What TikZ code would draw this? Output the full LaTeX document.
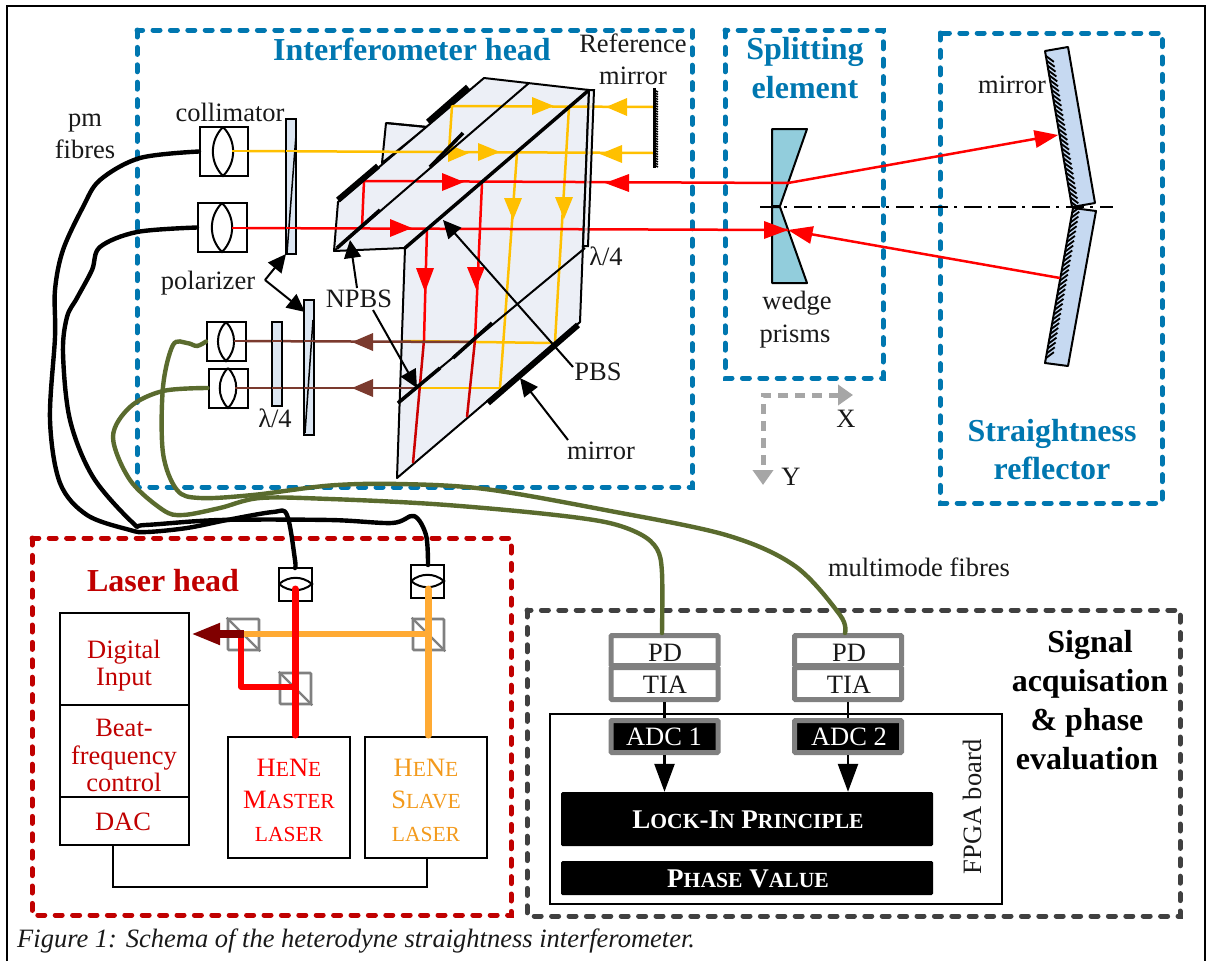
\documentclass[tikz,border=0pt]{standalone}
\usepackage{fontspec}
\setmainfont{Liberation Serif}
\usetikzlibrary{arrows.meta,calc}
\definecolor{cblue}{HTML}{0077B0}
\definecolor{cred}{HTML}{C00000}
\definecolor{cgray}{HTML}{404040}
\definecolor{corange}{HTML}{FFC000}
\definecolor{claser}{HTML}{FFAA33}
\definecolor{cslave}{HTML}{F39A1C}
\definecolor{cbrown}{HTML}{7B3A2E}
\definecolor{cgreen}{HTML}{5A6B2E}
\definecolor{cprism}{HTML}{ECEFF6}
\definecolor{cplate}{HTML}{DCE6F2}
\definecolor{cwedge}{HTML}{92CDDC}
\definecolor{cmirror}{HTML}{C6D9F1}
\newcommand{\fs}[1]{\fontsize{#1}{#1}\selectfont}
\newcommand{\smc}[1]{{\fs{21.5}#1}}
\newcommand{\smb}[1]{{\fs{21.6}#1}}
\tikzset{
  x=1pt,y=-1pt,
  zone/.style={line width=5pt,line cap=round,dash pattern=on 7pt off 10.4pt},
  txt/.style={anchor=base,inner sep=0pt,font=\fs{26.5},text=black!90},
  ttl/.style={anchor=base,inner sep=0pt,font=\fs{32}\bfseries,text=cblue},
  colbox/.style={draw=black,line width=2pt,inner sep=0pt,fill=white},
  labbox/.style={draw=black,line width=1.8pt,inner sep=0pt,fill=white},
  graybox/.style={draw=black!50,line width=5pt,rounded corners=1pt,inner sep=0pt,fill=white},
  cube/.style={draw=black!50,line width=2.6pt,rounded corners=1pt,inner sep=0pt,minimum width=31pt,minimum height=31pt},
  blk/.style={fill=black,rounded corners=1.5pt,inner sep=0pt,text=white,font=\fs{27}\bfseries},
  beam/.style={line width=2.5pt},
  fat/.style={line width=7pt,line cap=round},
  pmf/.style={line width=4.4pt,line cap=round,line join=round},
  mmf/.style={line width=4.4pt,line cap=round,color=cgreen},
  ann/.style={line width=2pt,-{Triangle[length=18pt,width=17pt]}},
  plate/.style={draw=black,line width=2pt,fill=cplate},
  edgeline/.style={line width=2pt,line join=round},
  thick part/.style={line width=3.6pt}
}
% triangle arrowhead on a beam: colour, from, to
\newcommand{\tri}[3]{\fill[#1] (#3) -- ($(#2)!9pt!90:(#3)$) -- ($(#2)!9pt!-90:(#3)$) -- cycle;}
\newcommand{\lens}[4]{\draw[line width=2pt] (#1,#2) to[bend left=#4] (#1,#3) to[bend left=#4] (#1,#2);}
\newcommand{\hlens}[4]{\draw[line width=2pt] (#1,#3) to[bend left=#4] (#2,#3) to[bend left=#4] (#1,#3);}
\begin{document}
\begin{tikzpicture}
\useasboundingbox (0,0) rectangle (1212,961);
\fill[white] (0,0) rectangle (1212,961);
% outer frame
\draw[line width=2pt] (7,961) -- (7,6) -- (1205,6) -- (1205,961);
% zones
\draw[zone,cblue] (137,30) rectangle (692,487);
\draw[zone,cblue] (725,30) rectangle (883,378);
\draw[zone,cblue] (940,33) rectangle (1162,503);
\draw[zone,cred] (32,538) rectangle (511,915);
\draw[zone,cgray] (527,610) rectangle (1180,916);
% titles
\node[ttl] (t1) at (412,60) {Interferometer head};
\node[ttl] (t2) at (805,59) {Splitting};
\node[ttl] (t3) at (805,98) {element};
\node[ttl] (t4) at (1052,441) {Straightness};
\node[ttl] (t5) at (1052,479) {reflector};
\node[ttl,text=cred] (t6) at (163,591) {Laser head};
\node[ttl,text=black] (t7) at (1090,652) {Signal};
\node[ttl,text=black] (t8) at (1090,691) {acquisation};
\node[ttl,text=black] (t9) at (1087,730) {\& phase};
\node[ttl,text=black] (t10) at (1087,769) {evaluation};
% labels
\node[txt] (l1) at (633,52) {Reference};
\node[txt] (l2) at (633,84) {mirror};
\node[txt] (l3) at (1012,93) {mirror};
\node[txt] (l4) at (85,126) {pm};
\node[txt] (l5) at (85,158) {fibres};
\node[txt] (l6) at (230,121) {collimator};
\node[txt] (l7) at (208,289) {polarizer};
\node[txt] (l8) at (359,307) {NPBS};
\node[txt] (l9) at (606,265) {λ/4};
\node[txt] (l10) at (598,380) {PBS};
\node[txt] (l11) at (601,459) {mirror};
\node[txt] (l12) at (797,309) {wedge};
\node[txt] (l13) at (795,342) {prisms};
\node[txt] (l14) at (275,427) {λ/4};
\node[txt] (l15) at (846,427) {X};
\node[txt] (l16) at (791,485) {Y};
\node[txt] (l17) at (919,576) {multimode fibres};
\node[txt,anchor=base west,font=\fs{26.5}\itshape] (cap) at (17,947) {Figure 1: Schema of the heterodyne straightness interferometer.};
% axis arrows
\draw[line width=5pt,color=black!35,dash pattern=on 10pt off 7pt,{Triangle[length=15pt,width=20pt]}-{Triangle[length=15pt,width=20pt]}] (853,395) -- (763,395) -- (763,485);
% wedge prisms
\filldraw[fill=cwedge,edgeline] (772,129) -- (807,129) -- (780,206) -- (772,206) -- cycle;
\filldraw[fill=cwedge,edgeline] (772,207) -- (780,207) -- (807,283) -- (772,283) -- cycle;
% prism block
\filldraw[fill=cprism,edgeline] (386,123) -- (427,127) -- (382,163) -- cycle;
\draw[edgeline] (386,123) -- (427,127);
\filldraw[fill=cprism,edgeline] (484,78) -- (589,90) -- (580,322) -- (397,478) -- (405,248) -- (334,251) -- (338,202) -- cycle;
% beams in the block
\draw[beam,corange] (232,151) -- (653,153);
\draw[beam,corange] (653,107) -- (452,106) -- (449,151);
\draw[beam,corange] (569,107) -- (558,290) -- (555,342);
\draw[beam,corange] (517,153) -- (500,388);
\draw[beam,corange] (403,341) -- (553,343);
\draw[beam,corange] (418,388) -- (500,388);
\draw[beam,red] (788,183) -- (364,181) -- (362,227);
\draw[beam,red] (232,228) -- (788,230);
\draw[beam,red] (427,228) -- (424,340);
\draw[beam,red] (482,183) -- (475,340);
\draw[beam,red!80!black] (424,340) -- (413,463);
\draw[beam,red!80!black] (475,340) -- (467,417);
\draw[beam,cbrown] (232,341) -- (472,342);
\draw[beam,cbrown] (232,388) -- (418,388);
\tri{corange}{532,106}{554,106}
\tri{corange}{627,107}{606,107}
\tri{corange}{448,153}{469,153}
\tri{corange}{478,152}{500,152}
\tri{corange}{622,154}{600,154}
\tri{corange}{564,197}{564,219}
\tri{corange}{513,198}{513,220}
\tri{red}{442,182}{464,182}
\tri{red}{629,183}{605,183}
\tri{red}{390,228}{412,228}
\tri{red}{425,268}{425,292}
\tri{red}{476,267}{476,289}
\tri{cbrown}{373,342}{352,342}
\tri{cbrown}{373,388}{352,388}
% internal surfaces
\draw[edgeline] (529,83) -- (334,251);
\draw[thick part] (463,133) -- (430,167);
\draw[thick part] (380,210) -- (337,248);
\draw[line width=3.5pt] (589,90) -- (405,248);
\draw[edgeline] (585,248) -- (398,403);
\draw[thick part] (492,323) -- (453,358);
\draw[thick part] (440,368) -- (398,403);
\draw[line width=6pt] (468,87) -- (428,122);
\draw[line width=6pt] (378,166) -- (338,200);
\draw[line width=6pt] (578,325) -- (488,403);
\filldraw[fill=cprism,fill opacity=.7,draw=black,line width=2pt] (589,90) -- (594,90) -- (588,246) -- (583,246) -- cycle;
% reference mirror
\draw[line width=3pt] (654,88) -- (654,168);
\foreach \i in {90,92.5,...,166}{\draw[line width=1.4pt] (654,\i) -- (658,\i+2);}
% collimators
\node[colbox,minimum width=48pt,minimum height=49pt] (c1) at (224,151.5) {};
\node[colbox,minimum width=49pt,minimum height=49pt] (c2) at (222.5,227.5) {};
\node[colbox,minimum width=39pt,minimum height=39pt] (c3) at (226.5,341.5) {};
\node[colbox,minimum width=39pt,minimum height=39pt] (c4) at (228,388) {};
\lens{223}{127}{176}{45}
\lens{222}{203}{252}{45}
\lens{226}{322}{361}{45}
\lens{228}{368}{408}{45}
\draw[beam,corange] (232,151) -- (286,151);
\draw[beam,red] (232,228) -- (286,228);
\draw[beam,cbrown] (234,341) -- (272,341);
\draw[beam,cbrown] (235,388) -- (272,388);
% plates
\filldraw[plate] (286,119) rectangle (296,254);
\draw[line width=1.5pt] (296,135) -- (287,253);
\draw[beam,corange] (286,151) -- (300,151);
\draw[beam,red] (286,228) -- (300,228);
\filldraw[plate] (304,300) rectangle (314,435);
\draw[line width=1.5pt] (313,320) -- (305,433);
\draw[beam,cbrown] (304,341) -- (320,341);
\draw[beam,cbrown] (304,388) -- (320,388);
\filldraw[plate] (272,322) rectangle (282,406);
\draw[beam,cbrown] (272,341) -- (282,341);
\draw[beam,cbrown] (272,388) -- (282,388);
% annotation arrows
\coordinate (pz) at (265,280);
\coordinate (pa) at (286,254);
\coordinate (pb) at (305,312);
\draw[ann] (pz) -- (pa);
\draw[ann] (pz) -- (pb);
\coordinate (n0) at (357,288);
\coordinate (n1) at (350,240);
\coordinate (n3) at (373,310);
\coordinate (n2) at (417,388);
\draw[ann] (n0) -- (n1);
\draw[ann] (n3) -- (n2);
\coordinate (pbsend) at (443,220);
\coordinate (pbsstart) at (573,367);
\draw[ann] (pbsstart) -- (pbsend);
\coordinate (mend) at (520,378);
\coordinate (mstart) at (568,440);
\draw[ann] (mstart) -- (mend);
% reflector
\filldraw[fill=cmirror,edgeline] (1045,51) -- (1068,47) -- (1095,203) -- (1072,207) -- cycle;
\filldraw[fill=cmirror,edgeline] (1073,208) -- (1096,211) -- (1068,366) -- (1045,363) -- cycle;
\foreach \i in {1,...,31}{
  \draw[line width=1.8pt] ($(1045,51)!\i/32!(1072,207)$) -- ++(8,6);
  \draw[line width=1.8pt] ($(1073,208)!\i/32!(1045,363)$) -- ++(8,-6);
}
% centre line and outer beams
\draw[line width=1.6pt,dash pattern=on 18pt off 6pt on 3pt off 7pt] (760,207) -- (1113,207);
\draw[beam,red] (788,183) -- (1040,138);
\draw[beam,red] (1060,278) -- (810,234);
\tri{red}{1035,139}{1058,135}
\tri{red}{812,235}{788,230}
\tri{red}{764,230}{788,230}
% laser head
\node[labbox,minimum width=129pt,minimum height=92pt] (di) at (124.5,659) {};
\node[labbox,minimum width=129pt,minimum height=92pt] (bf) at (124.5,751) {};
\node[labbox,minimum width=129pt,minimum height=48pt] (dac) at (124.5,821) {};
\node[labbox,minimum width=122pt,minimum height=121pt] (ms) at (289,797.5) {};
\node[labbox,minimum width=122pt,minimum height=121pt] (sl) at (426,797.5) {};
\coordinate (wa) at (113,887);
\coordinate (wb) at (427,887);
\draw[line width=1.8pt] (dac.south -| wa) -- (wa) -- (wb) -- (wb |- sl.south);
\node[txt,text=cred] at (124,658) {Digital};
\node[txt,text=cred] at (124,685) {Input};
\node[txt,text=cred] at (124,736) {Beat-};
\node[txt,text=cred] at (124,764) {frequency};
\node[txt,text=cred] at (124,791) {control};
\node[txt,text=cred] at (123,830) {DAC};
\node[txt,text=red] at (289,776) {H\smc{E}N\smc{E}};
\node[txt,text=red] at (289,808) {M\smc{ASTER}};
\node[txt,text=red] at (289,841) {\smc{LASER}};
\node[txt,text=cslave] at (426,776) {H\smc{E}N\smc{E}};
\node[txt,text=cslave] at (426,808) {S\smc{LAVE}};
\node[txt,text=cslave] at (426,841) {\smc{LASER}};
\node[colbox,minimum width=33pt,minimum height=33pt] (cm) at (295.5,584.5) {};
\node[colbox,minimum width=33pt,minimum height=33pt] (cs) at (427.5,581.5) {};
\hlens{279}{312}{584}{40}
\hlens{411}{444}{581}{40}
\node[cube] (bs1) at (243.5,634.5) {};
\node[cube] (bs2) at (428.5,634.5) {};
\node[cube] (bs3) at (295.5,688.5) {};
\draw[line width=2.2pt,black!50] (bs1.north west) -- (bs1.south east);
\draw[line width=2.2pt,black!50] (bs2.north west) -- (bs2.south east);
\draw[line width=2.2pt,black!50] (bs3.north west) -- (bs3.south east);
\draw[line width=6pt,claser] (243,634) -- (428,634);
\draw[fat,claser] (428,589) -- (428,735);
\draw[fat,red] (295,589) -- (295,735);
\draw[line width=5.5pt,red,line join=round] (295,687) -- (241,687) -- (241,634);
\draw[line width=7.5pt,color=black!50!red,-{Triangle[length=29pt,width=20pt]}] (244,634) -- (191,634);
% signal acquisition
\node[labbox,minimum width=452pt,minimum height=190pt] (fpga) at (776,809) {};
\node[txt,rotate=90] at (981,807) {FPGA board};
\node[graybox,minimum width=107pt,minimum height=30pt] (pd1) at (664.5,650.5) {};
\node[graybox,minimum width=107pt,minimum height=32pt] (tia1) at (664.5,683.5) {};
\node[graybox,minimum width=107pt,minimum height=30pt] (pd2) at (848,650.5) {};
\node[graybox,minimum width=107pt,minimum height=32pt] (tia2) at (848,683.5) {};
\node[txt] at (665,661) {PD};
\node[txt] at (665,693) {TIA};
\node[txt] at (849,661) {PD};
\node[txt] at (849,693) {TIA};
\node[graybox,fill=black,minimum width=107pt,minimum height=32pt] (adc1) at (664.5,736.5) {};
\node[graybox,fill=black,minimum width=107pt,minimum height=32pt] (adc2) at (848,736.5) {};
\node[txt,text=white] at (664,745) {ADC 1};
\node[txt,text=white] at (849,745) {ADC 2};
\node[blk,minimum width=372pt,minimum height=54pt] (lock) at (747,819) {};
\node[blk,minimum width=372pt,minimum height=34pt] (phase) at (747,878) {};
\node[anchor=base,inner sep=0pt,text=white,font=\fs{27}\bfseries] at (748,828) {L\smb{OCK}-I\smb{N} P\smb{RINCIPLE}};
\node[anchor=base,inner sep=0pt,text=white,font=\fs{27}\bfseries] at (748,887) {P\smb{HASE} V\smb{ALUE}};
\draw[line width=2.5pt] (tia1.south) -- (adc1.north);
\draw[line width=2.5pt] (tia2.south) -- (adc2.north);
\draw[line width=2.5pt,-{Triangle[length=28pt,width=20pt]}] (adc1.south) -- (adc1.south |- lock.north);
\draw[line width=2.5pt,-{Triangle[length=28pt,width=20pt]}] (adc2.south) -- (adc2.south |- lock.north);
% fibres
\draw[pmf] plot[smooth,tension=.55] coordinates {(c1.west) (140,158) (100,180) (83,207) (63,250) (55,290) (55,337) (50,420) (60,483) (87,515) (130,530) (147,532) (187,528) (227,520) (273,512) (287,515) (295,560) (295,568)};
\draw[pmf] plot[smooth,tension=.55] coordinates {(c2.west) (137,232) (100,247) (92,270) (77,298) (67,317) (63,353) (70,420) (93,477) (133,523) (145,525) (220,520) (330,520) (392,523) (414,516) (426,535) (428,565)};
\draw[mmf] plot[smooth,tension=.55] coordinates {(c3.west) (197,346) (187,343) (173,345) (163,387) (163,453) (177,490) (200,498) (253,495) (330,485.5) (399,484) (485,489) (605,510) (726,535) (795,566) (840,615) (845,633)};
\draw[mmf] plot[smooth,tension=.55] coordinates {(c4.west) (163,391) (130,407) (113,437) (130,480) (163,510) (183,515) (220,508) (260,498) (330,499) (433,504) (537,513) (605,522) (640,534) (657,549) (662,573) (662,633)};
\end{tikzpicture}
\end{document}
